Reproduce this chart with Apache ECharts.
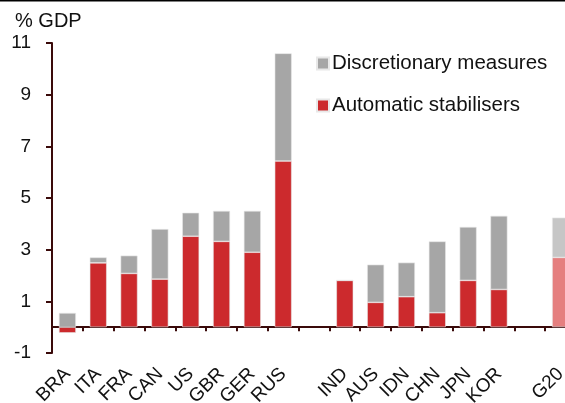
<!DOCTYPE html>
<html>
<head>
<meta charset="utf-8">
<script src="https://cdn.jsdelivr.net/npm/echarts@6/dist/echarts.min.js"></script>
<style>
  html, body { margin: 0; padding: 0; background: #fff; }
  #chart { width: 565px; height: 403px; }
</style>
</head>
<body>
<div id="chart"></div>
<script>
// countries, with two empty slots as gaps
var countries = ['BRA', 'ITA', 'FRA', 'CAN', 'US', 'GBR', 'GER', 'RUS', '', 'IND', 'AUS', 'IDN', 'CHN', 'JPN', 'KOR', '', 'G20'];
// automatic stabilisers (% GDP)
var automatic = [-0.22, 2.49, 2.08, 1.86, 3.52, 3.32, 2.90, 6.43, null, 1.81, 0.96, 1.18, 0.56, 1.81, 1.46, null, 2.70];
// discretionary measures (% GDP), on top of automatic
var discretionary = [0.55, 0.21, 0.69, 1.94, 0.91, 1.18, 1.60, 4.17, null, 0, 1.46, 1.32, 2.76, 2.07, 2.85, null, 1.54];
var yTicks = [-1, 1, 3, 5, 7, 9, 11];

var redCol = '#cc2a2d';
var greyCol = '#a6a6a6';
var fontFam = 'Liberation Sans, Arial, sans-serif';

function build(vals, col, lightCol) {
    var out = [];
    for (var i = 0; i < vals.length; i++) {
        if (countries[i] == 'G20') {
            out.push({value: vals[i], itemStyle: {color: lightCol}});
        } else {
            out.push(vals[i] == null ? '-' : vals[i]);
        }
    }
    return out;
}

var myChart = echarts.init(document.getElementById('chart'));
var option = {
    animation: false,
    textStyle: {fontFamily: fontFam},
    title: {
        text: '% GDP',
        left: 10,
        top: 6,
        textStyle: {fontSize: 20, fontWeight: 'normal', color: '#111', fontFamily: fontFam}
    },
    legend: {
        orient: 'vertical',
        left: 311,
        top: 48,
        itemWidth: 12,
        itemHeight: 12,
        itemGap: 21,
        icon: 'rect',
        data: ['Discretionary measures', 'Automatic stabilisers'],
        textStyle: {fontSize: 20.5, color: '#111', fontFamily: fontFam, padding: [0, 0, 0, -2]}
    },
    grid: {left: 52, right: -11, top: 43, bottom: 50, containLabel: false, outerBoundsMode: 'none'},
    xAxis: {
        type: 'category',
        data: countries,
        axisLine: {onZero: true, lineStyle: {color: '#3a0a0a', width: 2}},
        axisTick: {show: true, length: 4, lineStyle: {color: '#3a0a0a', width: 2}},
        axisLabel: {
            interval: 0,
            rotate: 45,
            margin: 18,
            fontSize: 19,
            color: '#111'
        }
    },
    yAxis: {
        type: 'value',
        min: -1,
        max: 11,
        interval: 2,
        splitLine: {show: false},
        axisLine: {show: true, lineStyle: {color: '#3a0a0a', width: 2}},
        axisTick: {show: true, length: 6, lineStyle: {color: '#3a0a0a', width: 2}},
        axisLabel: {fontSize: 19, color: '#111', margin: 21}
    },
    graphic: [{
        type: 'rect',
        shape: {x: 0, y: 0, width: 565, height: 1.5},
        style: {fill: '#000'}
    }],
    series: [
        {
            name: 'Automatic stabilisers',
            type: 'bar',
            stack: 'total',
            barWidth: 17,
            itemStyle: {color: redCol, borderColor: '#e8e8e8', borderWidth: 0.6},
            data: build(automatic, redCol, '#e57f7f')
        },
        {
            name: 'Discretionary measures',
            type: 'bar',
            stack: 'total',
            barWidth: 17,
            itemStyle: {color: greyCol, borderColor: '#e8e8e8', borderWidth: 0.6},
            data: build(discretionary, greyCol, '#c6c6c6')
        }
    ]
};
myChart.setOption(option);
</script>
</body>
</html>
